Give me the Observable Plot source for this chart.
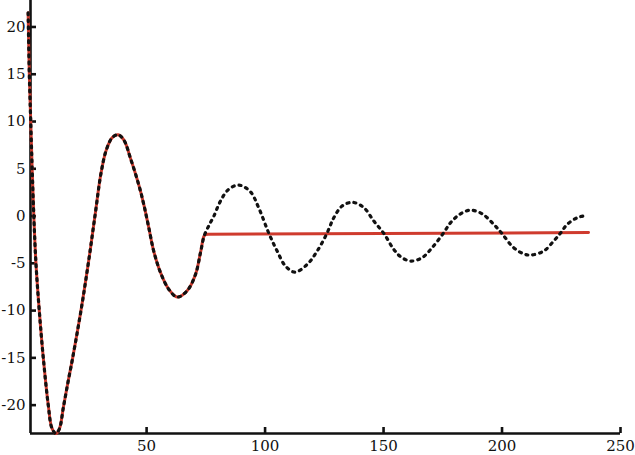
<!DOCTYPE html>
<html>
<head>
<meta charset="utf-8">
<script src="https://cdn.jsdelivr.net/npm/d3@7"></script>
<script src="https://cdn.jsdelivr.net/npm/@observablehq/plot@0.6"></script>
<style>
  html, body { margin: 0; padding: 0; background: #fff; }
  #chart svg { display: block; }
</style>
</head>
<body>
<div id="chart"></div>
<script>
// Tick labels
const xTicks = [50, 100, 150, 200, 250];
const yTicks = [-20, -15, -10, -5, 0, 5, 10, 15, 20];
const xDomain = [1, 250];
const yDomain = [-23, 22.8];

// Full (dotted) series
const blackX = [0, 0.5, 1.1, 1.7, 2.4, 3.3, 4.7, 6.4, 8.5, 10.0, 11.7, 13.2, 14.9, 16.8, 18.8, 22.3, 25.4, 28.2, 30.8, 33.0, 35.5, 38.0, 40.5, 43.2, 46.7, 48.8, 50.9, 53.0, 55.9, 59.4, 62.9, 67.1, 70.6, 72.8, 74.3, 76.5, 78.4, 81.0, 84.5, 88.9, 93.8, 97.3, 101.6, 105.1, 108.6, 112.6, 117.8, 122.0, 126.1, 129.0, 132.5, 137.0, 141.7, 145.9, 150.1, 154.3, 157.2, 161.4, 166.3, 170.5, 175.4, 178.3, 182.5, 186.7, 191.6, 196.5, 199.8, 204.9, 209.1, 212.0, 217.6, 221.8, 224.8, 227.5, 231.7, 235.5];
const blackY = [21.5, 15, 10, 5, 0, -5, -10, -15, -20, -22.4, -23, -22.5, -20.2, -17.6, -15, -10, -5, 0, 4.6, 7.0, 8.3, 8.6, 8.0, 6.1, 3.3, 1.24, -1.2, -3.7, -6.0, -7.76, -8.57, -7.9, -6.2, -3.8, -2.1, -0.9, 0, 1.5, 2.8, 3.28, 2.57, 0.88, -1.83, -3.7, -5.29, -5.93, -5.11, -3.7, -1.83, -0.18, 1.06, 1.45, 0.88, -0.53, -1.83, -3.52, -4.3, -4.76, -4.4, -3.35, -1.76, -0.7, 0.24, 0.62, 0.24, -0.88, -1.8, -3.35, -3.99, -4.13, -3.7, -2.65, -1.76, -0.88, -0.18, 0.07];

// Red series: follows the dotted one until ~74, then stays nearly flat
const redSplitX = 74.3;
const redTailX = [75.3, 236.5];
const redTailY = [-1.92, -1.75];

const black = blackX.map((x, i) => ({x, y: blackY[i]}));
const redTail = redTailX.map((x, i) => ({x, y: redTailY[i]}));
const redHead = black.filter(d => d.x <= redSplitX).concat([redTail[0]]);

const W = 635, H = 455;
const mL = 30, mR = 15, mT = 0, mB = 22;
const plotW = W - mL - mR, plotH = H - mT - mB;
const font = "DejaVu Serif";
const fmt = d => String(d);

const chart = Plot.plot({
  width: W,
  height: H,
  marginLeft: mL,
  marginRight: mR,
  marginTop: mT,
  marginBottom: mB,
  style: {fontFamily: font, fontSize: "15px", color: "#111", background: "#fff"},
  x: {domain: xDomain, axis: null},
  y: {domain: yDomain, axis: null},
  marks: [
    Plot.ruleY([yDomain[0]], {stroke: "#111", strokeWidth: 2.6}),
    Plot.ruleX([xDomain[0]], {stroke: "#111", strokeWidth: 2.6}),
    Plot.tickX(xTicks, {x: d => d, stroke: "#111", strokeWidth: 2.6, insetTop: plotH - 6}),
    Plot.tickY(yTicks, {y: d => d, stroke: "#111", strokeWidth: 2.6, insetRight: plotW - 6}),
    Plot.axisX(xTicks, {tickSize: 0, tickPadding: 7, label: null, tickFormat: fmt, fontFamily: font, fontSize: 15, fill: "#111"}),
    Plot.axisY(yTicks, {tickSize: 0, tickPadding: 5, label: null, tickFormat: fmt, fontFamily: font, fontSize: 15, fill: "#111"}),
    Plot.line(redHead, {x: "x", y: "y", stroke: "#cf3b2e", strokeWidth: 3, curve: "catmull-rom"}),
    Plot.line(redTail, {x: "x", y: "y", stroke: "#cf3b2e", strokeWidth: 3, strokeLinecap: "round"}),
    Plot.line(black, {x: "x", y: "y", stroke: "#111", strokeWidth: 3.2, strokeDasharray: "2,5", curve: "catmull-rom"})
  ]
});
document.getElementById("chart").appendChild(chart);
</script>
</body>
</html>
